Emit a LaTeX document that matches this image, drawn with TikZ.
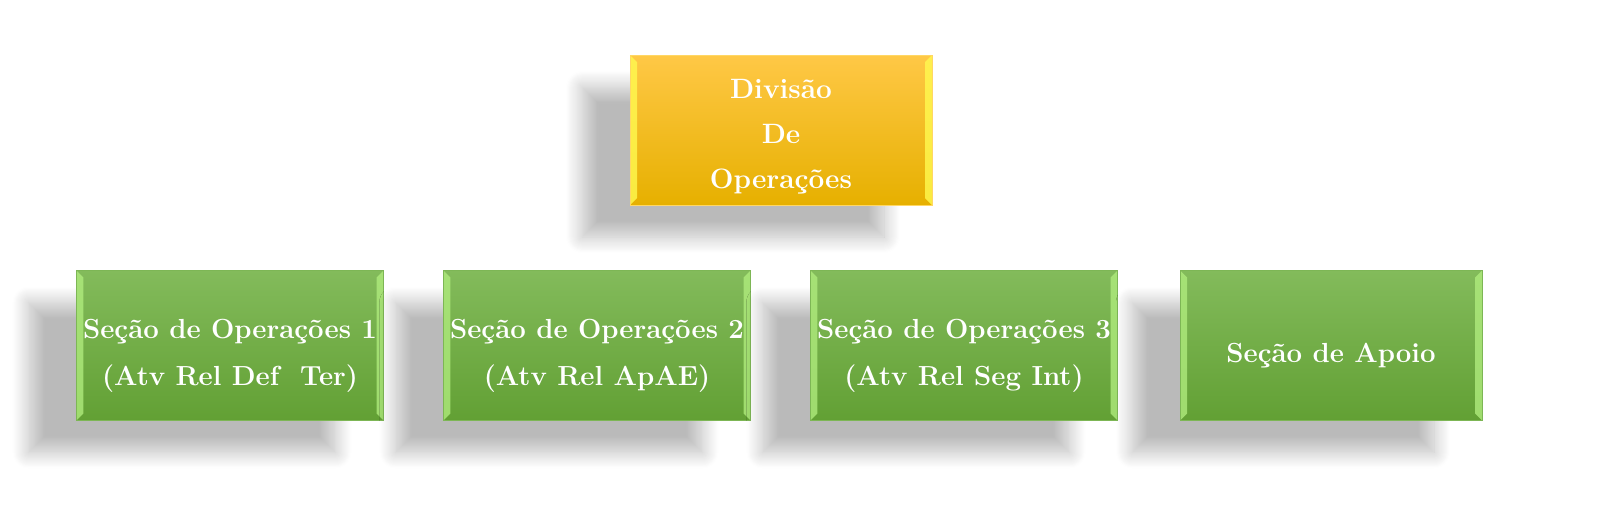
\documentclass[tikz,border=0pt]{standalone}
\usetikzlibrary{shadows.blur}
\definecolor{headtop}{RGB}{255,200,70}
\definecolor{headmid}{RGB}{255,198,0}
\definecolor{headbot}{RGB}{230,176,0}
\definecolor{headedge}{RGB}{255,215,100}
\definecolor{headbevel}{RGB}{255,250,80}
\definecolor{secttop}{RGB}{131,187,91}
\definecolor{sectbot}{RGB}{98,160,52}
\definecolor{sectedge}{RGB}{125,182,85}
\definecolor{sectbevel}{RGB}{175,235,125}
\newcommand{\lowtext}[1]{\rule{0pt}{#1}}

\begin{document}
\begin{tikzpicture}
                \tikzset{x=0.5pt, y=-0.5pt}
                \tikzstyle{bevel}=[path picture={
                    \fill[#1, opacity=0.8] (path picture bounding box.north west)
                        -- ([xshift=3.5pt, yshift=-3.5pt]path picture bounding box.north west)
                        -- ([xshift=3.5pt, yshift=3.5pt]path picture bounding box.south west)
                        -- (path picture bounding box.south west) -- cycle;
                    \fill[#1, opacity=0.8] (path picture bounding box.north east)
                        -- ([xshift=-3.5pt, yshift=-3.5pt]path picture bounding box.north east)
                        -- ([xshift=-3.5pt, yshift=3.5pt]path picture bounding box.south east)
                        -- (path picture bounding box.south east) -- cycle;}]
                \tikzstyle{unit}=[rectangle, minimum width=151pt, minimum height=75pt,
                    align=center, text=white,
                    blur shadow={shadow xshift=-24pt, shadow yshift=-16pt,
                        shadow blur radius=8pt, shadow blur steps=16, shadow opacity=27}]
                \tikzstyle{head}=[unit, top color=headtop, middle color=headmid, bottom color=headbot,
                    draw=headedge, bevel=headbevel, font=\fontsize{14}{22.5}\selectfont\bfseries]
                \tikzstyle{section}=[unit, top color=secttop, bottom color=sectbot,
                    draw=sectedge, bevel=sectbevel, font=\fontsize{13.8}{23.5}\selectfont\bfseries]

                \useasboundingbox (0, 0) rectangle (1607, 527);

                \draw (781, 130)    node[head]      (div)   {\lowtext{16pt}Divisão\\De\\Operações};

                \draw (230, 345.5)  node[section]   (s1)    {\lowtext{20pt}Seção de Operações 1\\(Atv Rel Def~ Ter)};
                \draw (597, 345.5)  node[section]   (s2)    {\lowtext{20pt}Seção de Operações 2\\(Atv Rel ApAE)};
                \draw (964, 345.5)  node[section]   (s3)    {\lowtext{20pt}Seção de Operações 3\\(Atv Rel Seg Int)};
                \draw (1331, 345.5) node[section]   (sa)    {\lowtext{20pt}Seção de Apoio};
            \end{tikzpicture}
\end{document}
